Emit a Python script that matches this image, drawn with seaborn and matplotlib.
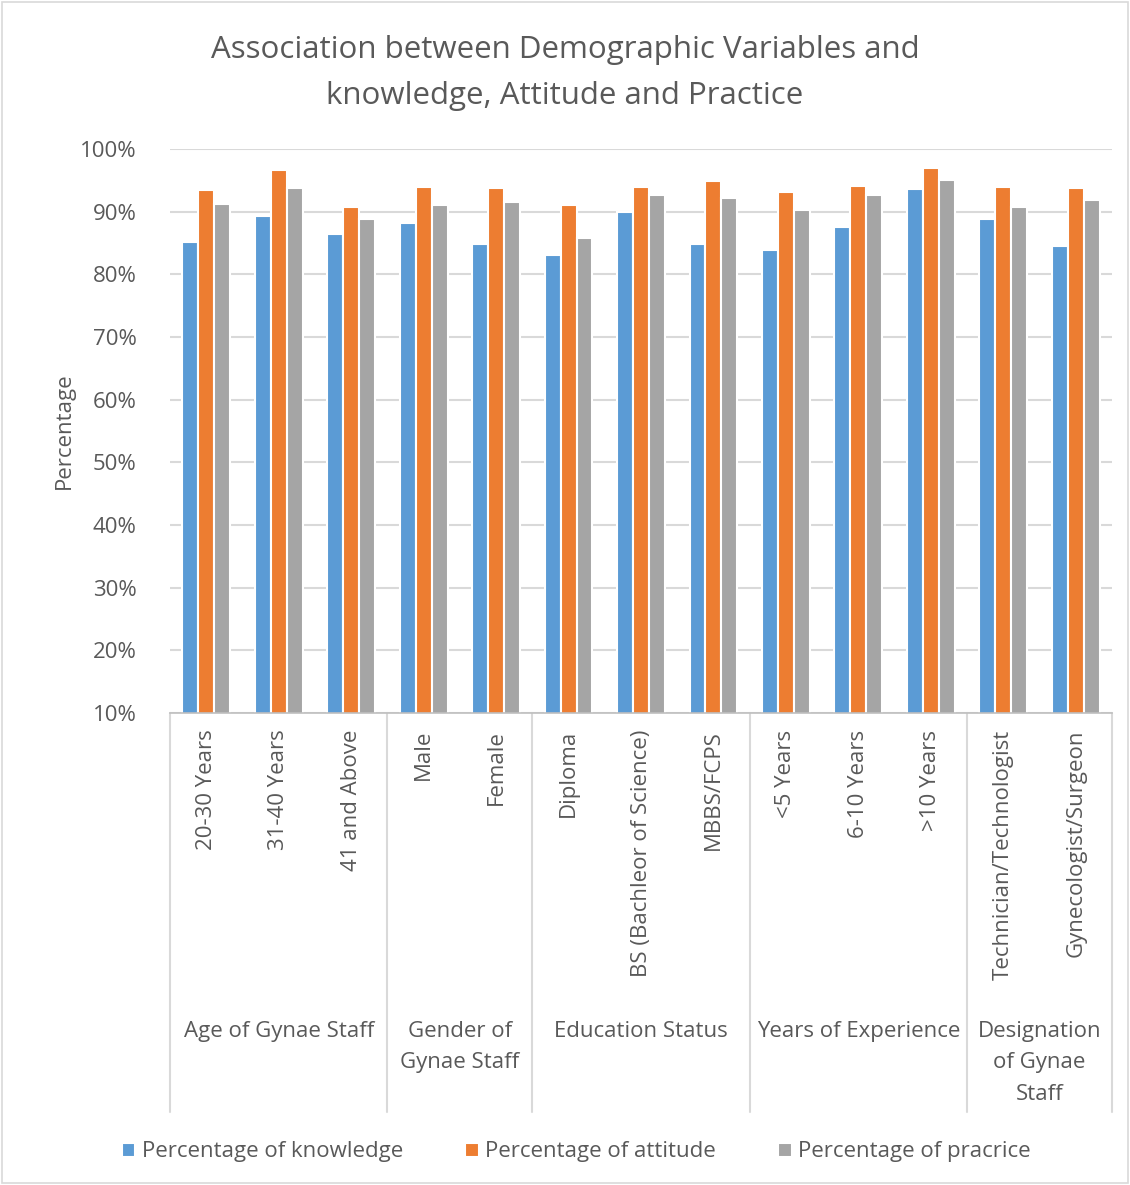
import pandas as pd
import matplotlib.pyplot as plt
import matplotlib.transforms as mtransforms
from matplotlib.patches import Rectangle
import seaborn as sns

# Chart values
categories = ["20-30 Years", "31-40 Years", "41 and Above", "Male", "Female",
              "Diploma", "BS (Bachleor of Science)", "MBBS/FCPS",
              "<5 Years", "6-10 Years", ">10 Years",
              "Technician/Technologist", "Gynecologist/Surgeon"]
knowledge = [85.2, 89.3, 86.5, 88.2, 84.9, 83.1, 89.9, 84.9, 83.9, 87.5, 93.6, 88.9, 84.5]
attitude = [93.5, 96.6, 90.8, 93.9, 93.7, 91.1, 94.0, 94.9, 93.1, 94.1, 97.0, 93.9, 93.7]
practice = [91.2, 93.7, 88.8, 91.1, 91.6, 85.8, 92.7, 92.2, 90.2, 92.7, 95.0, 90.8, 91.8]
series_names = ["Percentage of knowledge", "Percentage of attitude", "Percentage of pracrice"]
groups = ["Age of Gynae Staff", "Gender of\nGynae Staff", "Education Status",
          "Years of Experience", "Designation\nof Gynae\nStaff"]
group_sizes = [3, 2, 3, 3, 2]
colors = ["#5b9bd5", "#ed7d31", "#a5a5a5"]

rows = []
for name, vals in zip(series_names, [knowledge, attitude, practice]):
    for cat, v in zip(categories, vals):
        rows.append({"Category": cat, "Series": name, "Value": v / 100})
df = pd.DataFrame(rows)

sns.set_style("white")
plt.rcParams['font.family'] = ['Open Sans', 'DejaVu Sans']
text_color = "#595959"
fs = 16

fig = plt.figure(figsize=(11.3, 11.85), dpi=100)
ax = fig.add_axes([170 / 1130, (1185 - 713) / 1185, 942 / 1130, 564 / 1185])

sns.barplot(data=df, x="Category", y="Value", hue="Series", order=categories,
            hue_order=series_names, palette=colors, saturation=1, width=0.66,
            edgecolor="white", linewidth=1.5, ax=ax, legend=True)

ax.set_ylim(0.10, 1.0)
ax.set_xlim(-0.5, len(categories) - 0.5)
ax.set_yticks([i / 10 for i in range(1, 11)])
ax.set_yticklabels([f"{i * 10}%" for i in range(1, 11)], fontsize=fs, color=text_color)
ax.yaxis.grid(True, color="#d9d9d9", linewidth=1.5)
ax.set_axisbelow(True)
for s in ["top", "right", "left"]:
    ax.spines[s].set_visible(False)
ax.spines["bottom"].set_color("#bfbfbf")
ax.spines["bottom"].set_linewidth(1.2)
ax.tick_params(axis="y", length=0, pad=24)

ax.set_xticks(range(len(categories)))
ax.set_xticklabels(categories, rotation=90, fontsize=fs, color=text_color, va="top")
ax.tick_params(axis="x", length=0, pad=12)
ax.set_xlabel("")
ax.set_ylabel("Percentage", fontsize=fs, color=text_color, labelpad=4)

# group separators and group labels below the category labels
trans = mtransforms.blended_transform_factory(ax.transData, ax.transAxes)
bottom = (713 - 1112) / 564
start = 0
edges = [-0.5]
for g, n in zip(groups, group_sizes):
    mid = start + (n - 1) / 2
    ax.text(mid, (713 - 1021) / 564, g, transform=trans, ha="center", va="top",
            fontsize=fs, color=text_color, linespacing=1.65)
    start += n
    edges.append(start - 0.5)
for e in edges:
    ax.plot([e, e], [0, bottom], transform=trans, color="#d9d9d9", linewidth=1.5, clip_on=False)

fig.suptitle("Association between Demographic Variables and\nknowledge, Attitude and Practice",
             y=1 - 35 / 1185, va="top", fontsize=22.5, color=text_color, linespacing=1.68)

handles, labels = ax.get_legend_handles_labels()
ax.get_legend().remove()
fig.legend(handles, labels, loc="center", bbox_to_anchor=(0.51, 1 - 1152 / 1185), ncol=3,
           frameon=False, fontsize=fs, handlelength=0.6, handleheight=0.6,
           handletextpad=0.3, columnspacing=2.8, labelcolor=text_color)

fig.patches.append(Rectangle((2 / 1130, 2 / 1185), 1126 / 1130, 1181 / 1185, transform=fig.transFigure,
                             fill=False, edgecolor="#d9d9d9", linewidth=1.2))

fig.savefig("out.png", dpi=100)
